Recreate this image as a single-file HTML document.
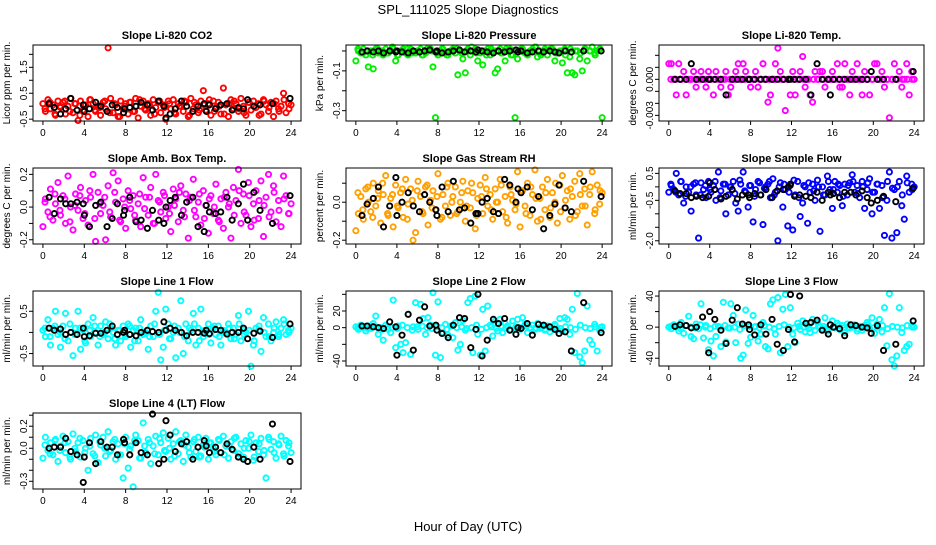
<!DOCTYPE html>
<html><head><meta charset="utf-8"><style>
body{margin:0;background:#fff;}
svg text{font-family:"Liberation Sans",sans-serif;}
</style></head><body>
<svg id="chart" width="936" height="540" xmlns="http://www.w3.org/2000/svg">
<rect width="936" height="540" fill="#fff"/>
<text x="468" y="14" text-anchor="middle" font-size="13">SPL_111025  Slope Diagnostics</text>
<text x="468" y="531" text-anchor="middle" font-size="13">Hour of Day (UTC)</text>
</svg>
<script>
const xTicks = [0,4,8,12,16,20,24];
const blackHours = [0.6,1.1,1.7,2.2,2.7,3.3,3.9,4.0,4.5,5.1,5.6,6.2,6.7,7.2,7.8,7.9,8.4,9.0,9.5,10.1,10.6,11.2,11.7,11.9,12.3,12.8,13.4,13.9,14.5,15.0,15.6,15.8,16.1,16.7,17.2,17.8,18.3,18.9,19.4,19.8,20.4,21.0,22.2,23.9];

const co2Vals = [0.1,-0.2,0.25,-0.1,0.05,-0.35,0.2,-0.05,0.15,-0.3,0.0,0.3,-0.25,0.1,-0.55,0.2,-0.15,0.05,-0.4,0.25,0.1,-0.2,0.0,-0.35,0.15,-0.1,2.25,0.3,-0.25,0.05,-0.4,0.2,-0.1,0.1,-0.3,0.15,-0.2,0.3,-0.45,0.0,0.2,-0.15,0.1,-0.35,0.25,-0.05,0.15,-0.25,0.05,-0.5,0.2,-0.1,0.25,-0.3,0.1,0.0,-0.2,0.15,-0.4,0.3,-0.1,0.05,-0.25,0.2,0.6,-0.15,0.1,-0.35,0.2,-0.05,0.15,-0.3,0.7,0.05,-0.4,0.25,-0.1,0.1,-0.2,0.3,0.0,-0.35,0.15,-0.15,0.2,-0.05,0.1,-0.3,0.25,0.05,-0.2,0.15,-0.4,0.2,-0.1,0.0,0.5,-0.25,0.1,0.05];
const co2Dense = [-0.1,0.15,-0.3,0.0,0.2,-0.2,0.1,-0.35,0.05,0.25,-0.15,-0.05,0.2,-0.25,0.1,-0.4,0.0,0.15,-0.2,0.25,-0.1,0.05,-0.3,0.2,-0.05,0.1,-0.25,0.0,0.2,-0.35,0.15,-0.15,0.05,0.25,-0.2,0.0,-0.3,0.1,0.2,-0.1,-0.25,0.15,0.0,-0.35,0.2,-0.05,0.1,-0.2,0.25,-0.1];
const co2Black = [0.1,-0.05,-0.3,-0.1,0.3,-0.15,0.05,-0.2,-0.1,0.15,0.0,-0.2,0.05,-0.05,-0.25,-0.1,-0.05,0.0,0.15,0.05,-0.15,0.2,0.0,-0.45,-0.3,-0.1,0.2,0.0,-0.2,0.0,0.1,-0.2,0.05,-0.1,0.05,0.1,-0.15,-0.05,-0.1,0.25,0.0,0.05,0.1,0.3];
const presVals = [-0.05,0.0,-0.01,0.01,-0.02,-0.08,0.0,-0.09,0.01,-0.01,0.0,-0.02,0.01,-0.01,0.0,0.01,-0.05,-0.02,0.0,0.01,-0.01,-0.02,0.01,0.0,-0.01,0.0,0.01,-0.02,-0.01,0.0,0.01,-0.08,-0.335,-0.02,0.0,0.01,-0.01,-0.02,0.0,0.01,-0.01,-0.12,0.0,-0.04,-0.11,0.01,-0.02,0.0,0.01,-0.05,-0.01,-0.07,0.0,0.01,-0.02,0.0,-0.11,-0.09,0.01,-0.01,-0.05,0.0,0.01,-0.02,-0.335,-0.04,0.0,0.01,-0.01,-0.02,0.0,0.01,0.02,-0.03,0.0,-0.01,0.01,-0.02,0.0,0.01,-0.05,-0.01,0.0,-0.06,0.01,-0.11,-0.03,-0.11,-0.12,0.0,-0.04,-0.1,0.01,-0.05,0.0,0.02,-0.01,0.0,0.01,-0.335];
const presDense = [0.01,-0.01,0.0,-0.02,0.01,0.0,-0.01,0.02,-0.02,0.0,0.01,-0.01,0.0,-0.02,0.01,0.0,-0.01,0.01,-0.02,0.0,0.01,-0.01,0.0,0.02,-0.01,0.0,-0.02,0.01,0.0,-0.01,0.01,-0.02,0.0,0.01,-0.01,0.0,0.02,-0.02,0.0,0.01,-0.01,0.0,-0.02,0.01,0.0,-0.01,0.01,0.0,-0.02,0.01];
const presBlack = [-0.005,0,-0.005,0,-0.01,0,-0.005,0.0,-0.005,-0.01,0,-0.005,0,0.005,-0.005,0,-0.01,-0.005,0,0.005,-0.005,0,-0.005,0.005,0,-0.005,-0.01,0,-0.005,0,0.005,-0.005,0,-0.01,-0.005,0,-0.005,0.0,-0.005,-0.01,0,-0.005,0,0];
const tempVals = [0.0013,0.0013,0,-0.0013,0.0013,0,0.00065,-0.0013,0,0,0.00065,-0.00065,0,0.00065,0,-0.00065,0.00065,0,-0.0013,0.00065,0,-0.00065,0,0.00065,-0.0013,-0.00065,0,0.00065,0.0013,0,0.0013,0.00065,0,-0.00065,0,0.00065,-0.00065,0,0.0013,0,-0.0019,-0.0013,0,0.0013,0.0026,0.00065,0,-0.0026,0,-0.0013,0.00065,-0.0013,0,0.00065,0.0019,-0.00065,0,-0.0013,-0.0019,0.00065,0,0.00065,0.00065,-0.00065,0,0,0.00065,0,0.0013,-0.00065,-0.00065,0.0013,0,-0.0013,0.00065,0,0.0013,0,-0.0013,0.00065,0,-0.0013,0,0.0013,0.0013,0,0.00065,-0.00065,0,-0.0032,0,0.0013,0,0.00065,-0.00065,0,0.0013,-0.0013,0.00065,0];
const tempDense = [0,0,0,0,0,0,0,0,0,0,0,0,0,0,0,0,0,0,0,0,0,0,0,0,0,0,0,0,0,0,0,0,0,0,0,0,0,0,0,0,0,0,0,0,0,0,0,0,0,0];
const tempBlack = [0,0,0,0.0013,0,0,0,0,0,0,-0.0013,0,0,0,0,0,0,0,0,0,0,0,0,0,0,0,0,-0.0013,0.0013,0,0,-0.0013,0,0,0,0,0,0,0,0.00065,0,0,0,0.00065];
const ambVals = [-0.12,0.05,-0.03,0.11,-0.08,0.02,0.15,-0.05,0.07,-0.1,0.19,0.0,-0.14,0.08,-0.02,0.12,-0.07,0.04,-0.11,0.06,0.2,-0.21,0.09,-0.04,0.01,-0.2,0.13,-0.06,0.21,0.03,0.16,-0.09,0.05,-0.13,0.1,-0.01,0.07,-0.08,0.02,-0.12,0.18,0.06,-0.05,0.12,-0.1,0.2,0.04,-0.03,0.09,-0.07,0.0,-0.15,0.11,0.05,-0.09,0.13,-0.02,0.08,-0.19,0.06,0.17,-0.06,0.03,-0.11,0.1,0.01,-0.16,0.07,-0.04,0.14,-0.08,0.05,-0.13,0.09,0.0,-0.19,0.12,0.04,0.23,-0.1,0.08,-0.05,0.15,-0.12,0.02,0.1,-0.07,0.16,-0.18,0.06,0.2,-0.03,0.13,-0.09,0.04,-0.12,0.19,0.07,-0.04,0.02];
const ambDense = [0.03,-0.06,0.08,-0.02,0.05,-0.09,0.01,0.07,-0.04,0.1,-0.07,0.02,0.06,-0.03,0.09,-0.08,0.0,0.04,-0.05,0.08,-0.01,0.06,-0.1,0.03,0.07,-0.04,0.01,0.09,-0.06,0.04,-0.02,0.08,-0.07,0.05,0.0,-0.09,0.06,0.02,-0.05,0.1,-0.03,0.07,-0.08,0.04,0.01,-0.06,0.09,-0.02,0.05,-0.04];
const ambBlack = [0.06,-0.04,0.05,0.02,0.02,0.03,0.02,-0.05,-0.12,0.01,0.03,-0.12,-0.07,0.02,-0.05,-0.02,0.06,-0.09,-0.08,-0.13,-0.02,-0.08,-0.1,0.0,0.04,0.06,-0.05,0.03,0.06,-0.12,-0.15,0.01,-0.03,-0.04,-0.03,0.06,-0.08,0.02,0.14,-0.08,0.09,-0.02,-0.1,0.07];
const rhVals = [-0.15,-0.06,0.03,-0.09,0.07,0.0,-0.05,0.1,-0.02,0.06,-0.11,0.04,0.14,-0.07,0.02,-0.13,0.09,-0.03,0.05,-0.08,0.12,-0.01,0.07,-0.2,-0.16,0.11,0.03,-0.06,0.08,-0.12,0.01,0.06,-0.04,0.15,-0.09,0.04,-0.02,0.1,-0.07,0.03,0.08,-0.05,0.0,0.11,-0.1,0.06,-0.03,0.05,-0.14,0.02,0.09,-0.06,0.13,-0.02,0.04,-0.09,0.07,0.0,0.12,-0.05,0.03,-0.11,0.08,0.01,-0.04,0.16,-0.13,0.06,-0.02,0.1,-0.07,0.04,0.17,-0.1,0.02,0.08,-0.04,0.12,-0.08,0.05,0.0,-0.11,0.09,0.14,-0.03,0.06,-0.09,0.03,0.11,-0.05,0.15,-0.02,0.07,-0.12,0.04,0.16,-0.06,0.09,-0.01,0.05];
const rhDense = [0.05,-0.04,0.08,-0.08,0.02,0.1,-0.06,0.04,-0.02,0.07,-0.09,0.01,0.06,-0.05,0.09,-0.03,0.03,-0.08,0.08,0.0,-0.06,0.05,-0.02,0.1,-0.07,0.03,0.07,-0.04,0.0,0.09,-0.08,0.04,-0.01,0.06,-0.06,0.08,0.02,-0.09,0.05,-0.03,0.1,-0.05,0.01,0.07,-0.07,0.04,-0.02,0.08,-0.04,0.06];
const rhBlack = [-0.07,-0.01,0.02,0.08,-0.13,-0.02,0.13,-0.07,0.0,0.05,-0.02,-0.05,0.04,0.0,-0.04,-0.07,0.08,-0.05,0.11,-0.04,-0.03,-0.11,-0.06,-0.06,0.0,0.02,-0.05,-0.06,0.12,0.09,0.0,0.07,0.05,0.08,-0.04,0.03,-0.14,-0.07,-0.01,0.09,-0.03,-0.05,0.11,0.03];
const sampVals = [-0.2,0.05,-0.1,0.5,-0.3,0.2,-0.6,0.0,-0.2,-0.9,0.1,-0.3,-1.9,0.15,-0.1,-0.4,0.2,-0.2,0.05,-0.5,0.55,-0.15,0.1,-1.0,-0.3,0.0,0.2,-0.6,-0.9,0.1,0.55,-0.2,-0.75,0.05,-1.3,-0.1,0.2,-0.3,-1.4,0.0,0.1,-0.4,0.3,-0.2,-2.0,0.15,-0.75,-0.1,-1.45,0.05,-1.6,-0.3,0.2,-1.1,-0.6,0.0,-1.35,-0.2,0.1,-0.5,0.25,-1.65,0.0,-0.3,0.4,-0.1,-0.8,0.2,-0.2,0.05,-0.7,0.1,-0.3,0.15,0.45,-0.2,0.05,-0.4,0.2,-0.8,-0.1,0.3,-1.0,-0.2,0.1,-0.8,0.05,-1.8,-0.5,0.55,-1.9,-0.1,-1.7,0.2,-0.7,-1.2,0.4,-0.2,0.1,0.0];
const sampDense = [0.1,-0.2,0.2,-0.35,0.0,0.15,-0.3,0.05,-0.1,0.2,-0.4,0.1,0.0,-0.25,0.25,-0.15,0.05,-0.35,0.15,-0.05,0.2,-0.3,0.0,0.1,-0.2,0.25,-0.4,0.05,0.15,-0.15,0.0,-0.3,0.2,-0.1,0.1,-0.35,0.05,0.2,-0.25,0.0,0.15,-0.2,0.1,-0.4,0.2,-0.05,0.0,-0.3,0.15,-0.1];
const sampBlack = [-0.15,-0.25,-0.25,-0.4,-0.35,-0.4,-0.35,0.15,-0.1,-0.45,-0.35,-0.1,-0.45,-0.3,-0.3,-0.4,-0.25,-0.3,-0.1,-0.4,-0.15,-0.1,0.0,0.1,-0.35,-0.3,-0.35,-0.4,-0.2,-0.5,-0.2,-0.3,-0.25,-0.4,-0.2,-0.2,-0.3,-0.15,-0.4,-0.6,-0.5,-0.35,-0.55,-0.05];
const l1Vals = [0.05,-0.1,0.3,-0.3,0.1,0.5,-0.05,-0.35,0.15,0.45,-0.2,0.0,-0.55,0.1,0.5,-0.4,0.05,-0.25,0.2,-0.1,0.35,0.0,-0.3,0.15,-0.05,0.25,-0.15,0.1,0.0,-0.3,0.05,-0.2,0.15,-0.1,0.2,-0.35,0.05,0.1,-0.2,0.3,-0.05,0.0,-0.4,0.15,-0.1,0.5,0.95,-0.65,-0.35,0.55,0.2,-0.15,0.0,-0.6,0.1,0.75,-0.5,0.2,-0.2,0.05,0.45,-0.3,0.1,0.55,-0.1,0.0,0.2,-0.25,0.1,-0.05,0.15,-0.3,0.05,0.0,0.2,-0.15,0.1,-0.05,0.4,-0.2,0.05,0.0,0.5,-0.8,-0.3,0.1,0.05,-0.45,0.35,-0.1,0.2,-0.2,0.0,0.25,-0.1,0.1,0.3,-0.05,0.05,0.1];
const l1Dense = [0.1,-0.1,0.15,0.0,-0.15,0.2,-0.05,0.1,-0.2,0.05,0.15,-0.1,0.0,0.2,-0.15,0.05,-0.05,0.15,-0.2,0.1,0.0,-0.1,0.2,-0.05,0.05,-0.15,0.15,0.0,-0.1,0.1,0.2,-0.2,0.05,-0.05,0.15,-0.1,0.0,0.1,-0.15,0.2,-0.05,0.05,-0.2,0.15,0.0,-0.1,0.1,-0.05,0.2,0.0];
const l1Black = [0.1,0.05,0.08,-0.05,0.0,-0.05,0.1,-0.1,-0.08,-0.02,-0.02,0.05,0.15,-0.05,0.0,0.05,-0.05,-0.08,0.0,0.05,0.02,0.0,0.25,0.05,0.1,0.05,0.0,-0.08,0.0,0.0,-0.02,0.05,-0.03,0.07,0.05,-0.04,0.0,0.0,0.1,-0.15,-0.02,0.03,-0.12,0.2];
const l2Vals = [1,-2,3,0,-4,2,-1,5,14,-8,0,-15,3,-2,-6,33,-24,2,-20,-30,-18,16,-32,1,30,-2,28,11,-8,12,3,42,-33,31,-36,-6,4,-9,2,-12,6,-27,-20,9,-3,30,35,-30,38,-8,-33,22,-28,26,3,-10,8,-4,10,-6,5,2,-3,8,-1,10,-2,12,4,-6,0,3,-2,5,-1,1,-3,2,-5,0,4,-2,11,-4,12,10,-8,22,-30,41,-35,-42,-28,26,-15,-20,4,-28,-3,1];
const l2Dense = [0,1,-1,2,0,-2,1,0,-1,3,0,-3,1,2,0,-1,1,0,-2,2,0,1,-1,0,3,-2,0,1,-1,2,0,-3,1,0,2,-1,0,1,-2,0,2,-1,1,0,-2,3,0,-1,1,0];
const l2Black = [2,2,1,0,-1,7,1,-33,-9,16,-27,9,25,2,3,-3,-7,-12,3,12,11,-24,-2,40,-34,-15,10,5,11,-3,-8,0,-1,5,-9,4,3,1,-2,-7,-5,-28,30,-6];
const l3Vals = [0,-2,3,1,-5,6,-8,2,14,-12,-15,4,-2,30,-14,2,-29,-18,-37,-12,1,-25,32,-19,-1,30,15,-20,4,-40,-36,22,-21,-13,15,1,-18,-9,6,-25,-28,30,35,-9,38,-33,23,42,-25,25,-9,-20,5,-3,8,-6,2,-7,10,-4,6,1,-2,12,-5,3,8,-1,5,-3,2,-7,4,-1,0,3,-5,1,-4,2,6,-2,12,-8,4,10,-6,25,-24,43,-42,-50,-37,25,-7,-30,-25,-22,2,0];
const l3Dense = [1,0,-2,2,0,-1,3,0,-2,1,0,2,-1,0,-3,2,1,0,-1,2,0,-2,1,3,0,-1,1,0,-2,2,0,1,-3,0,2,-1,0,1,-2,0,3,-1,0,2,-2,1,0,-1,2,0];
const l3Black = [1,3,2,-1,0,13,-33,20,10,-4,-21,9,25,4,3,-3,-10,3,-9,10,-22,-30,-3,42,-19,40,5,6,9,-4,-9,3,0,-2,-11,3,2,0,-1,-8,2,-30,-22,8];
const l4Vals = [-0.09,0.1,-0.02,0.05,-0.06,0.08,-0.12,0.02,0.11,-0.04,0.06,-0.1,0.13,-0.03,0.05,-0.08,0.07,0.0,-0.2,0.09,-0.05,0.12,-0.13,0.03,0.1,-0.07,0.15,-0.02,0.06,-0.1,0.04,-0.06,-0.27,0.1,-0.18,0.02,-0.35,0.12,0.07,-0.09,0.23,-0.04,0.08,-0.14,0.02,0.11,-0.06,0.05,0.14,-0.03,0.09,-0.1,0.04,0.15,-0.05,0.07,-0.12,0.12,0.01,-0.08,0.06,-0.03,0.1,-0.07,0.03,0.09,-0.1,0.05,0.0,-0.06,0.08,-0.04,0.11,0.02,-0.09,0.06,-0.02,0.1,-0.05,0.04,-0.08,0.07,0.0,0.12,-0.11,0.05,-0.03,0.09,-0.06,-0.27,0.1,-0.01,0.06,-0.09,0.04,0.11,-0.05,0.07,0.02,-0.04];
const l4Dense = [0.03,-0.05,0.07,-0.02,0.05,-0.08,0.0,0.09,-0.04,0.02,-0.07,0.06,0.0,-0.03,0.08,-0.06,0.04,-0.01,0.07,-0.09,0.02,0.05,-0.05,0.09,-0.02,0.0,-0.07,0.06,0.03,-0.04,0.08,-0.08,0.01,0.05,-0.03,0.07,-0.06,0.02,0.09,-0.05,0.0,0.06,-0.08,0.04,-0.02,0.08,-0.04,0.03,-0.07,0.05];
const l4Black = [0.0,0.01,0.01,0.09,-0.03,-0.06,-0.31,-0.08,0.05,-0.14,0.06,0.01,0.01,-0.06,0.08,0.05,-0.06,0.05,-0.04,-0.06,0.31,-0.14,-0.1,0.25,0.12,-0.03,0.04,0.06,-0.1,0.01,0.07,0.02,-0.04,0.01,-0.04,0.04,-0.01,-0.08,-0.1,-0.12,0.01,-0.1,0.22,-0.12];

const panels = [
 {name:'co2',title:'Slope Li-820 CO2',ylab:'Licor ppm per min.',col:0,row:0,color:'#ff0000',vals:co2Vals,dense:co2Dense,black:co2Black,ymin:-0.57,ymax:2.36,ticks:[-0.5,0,0.5,1,1.5,2],labels:['-0.5','','0.5','','1.5','']},
 {name:'pressure',title:'Slope Li-820 Pressure',ylab:'kPa per min.',col:1,row:0,color:'#00ee00',vals:presVals,dense:presDense,black:presBlack,ymin:-0.352,ymax:0.03,ticks:[0,-0.1,-0.2,-0.3],labels:['','-0.1','','-0.3']},
 {name:'temp',title:'Slope Li-820 Temp.',ylab:'degrees C per min.',col:2,row:0,color:'#ff00ff',vals:tempVals,dense:tempDense,black:tempBlack,ymin:-0.00347,ymax:0.00286,ticks:[0.002,0.001,0,-0.001,-0.002,-0.003],labels:['','','0.000','','','-0.003']},
 {name:'amb-box-temp',title:'Slope Amb. Box Temp.',ylab:'degrees C per min.',col:0,row:1,color:'#ff00ff',vals:ambVals,dense:ambDense,black:ambBlack,ymin:-0.226,ymax:0.239,ticks:[0.2,0.1,0,-0.1,-0.2],labels:['0.2','','0.0','','-0.2']},
 {name:'gas-rh',title:'Slope Gas Stream RH',ylab:'percent per min.',col:1,row:1,color:'#ffa000',vals:rhVals,dense:rhDense,black:rhBlack,ymin:-0.22,ymax:0.18,ticks:[0.1,0,-0.1,-0.2],labels:['','0.0','','-0.2']},
 {name:'sample-flow',title:'Slope Sample Flow',ylab:'ml/min per min.',col:2,row:1,color:'#0000ff',vals:sampVals,dense:sampDense,black:sampBlack,ymin:-2.12,ymax:0.7,ticks:[0.5,0,-0.5,-1,-1.5,-2],labels:['0.5','','-0.5','','','-2.0']},
 {name:'line1-flow',title:'Slope Line 1 Flow',ylab:'ml/min per min.',col:0,row:2,color:'#00ffff',vals:l1Vals,dense:l1Dense,black:l1Black,ymin:-0.795,ymax:0.98,ticks:[0.5,0,-0.5],labels:['0.5','','-0.5']},
 {name:'line2-flow',title:'Slope Line 2 Flow',ylab:'ml/min per min.',col:1,row:2,color:'#00ffff',vals:l2Vals,dense:l2Dense,black:l2Black,ymin:-46,ymax:44,ticks:[40,20,0,-20,-40],labels:['','20','0','','-40']},
 {name:'line3-flow',title:'Slope Line 3 Flow',ylab:'ml/min per min.',col:2,row:2,color:'#00ffff',vals:l3Vals,dense:l3Dense,black:l3Black,ymin:-50,ymax:46.5,ticks:[40,20,0,-20,-40],labels:['40','','0','','-40']},
 {name:'line4-flow',title:'Slope Line 4 (LT) Flow',ylab:'ml/min per min.',col:0,row:3,color:'#00ffff',vals:l4Vals,dense:l4Dense,black:l4Black,ymin:-0.37,ymax:0.32,ticks:[0.3,0.2,0.1,0,-0.1,-0.2,-0.3],labels:['','0.2','','0.0','','','-0.3']}
];
const colLeft=[33,346,659], colW=[268,266,265];
const rowTop=[45,168,291,413], rowH=[76,76,75,76];
const NS='http://www.w3.org/2000/svg';
const svg=document.getElementById('chart');
function mk(tag,attrs,parent){const e=document.createElementNS(NS,tag);for(const k in attrs)e.setAttribute(k,attrs[k]);(parent||svg).appendChild(e);return e;}

panels.forEach(p=>{
  const L=colLeft[p.col],W=colW[p.col],T=rowTop[p.row],H=rowH[p.row];
  const xs=h=>L+(h+0.96)/25.92*W;
  const ys=v=>T+H-(v-p.ymin)/(p.ymax-p.ymin)*H;
  const g=mk('g',{});
  
  
  const t=mk('text',{x:L+W/2,y:T-6,'text-anchor':'middle','font-size':'11','font-weight':'bold'},g);
  t.textContent=p.title;
  
  
  const yl=mk('text',{x:0,y:0,'text-anchor':'middle','font-size':'10',transform:`translate(${L-23},${T+H/2}) rotate(-90)`},g);
  yl.textContent=p.ylab;
  
  
  const xa=mk('g',{},g);
  
  
  mk('line',{x1:xs(0),x2:xs(24),y1:T+H,y2:T+H,stroke:'#000'},xa);
  xTicks.forEach(v=>{
    mk('line',{x1:xs(v),x2:xs(v),y1:T+H,y2:T+H+4,stroke:'#000'},xa);
    const tx=mk('text',{x:xs(v),y:T+H+15,'text-anchor':'middle','font-size':'10'},xa);
    tx.textContent=v;
  });
  const ya=mk('g',{},g);
  
  
  const tk=p.ticks.map(ys);
  mk('line',{x1:L,x2:L,y1:Math.min(...tk),y2:Math.max(...tk),stroke:'#000'},ya);
  p.ticks.forEach((v,i)=>{
    mk('line',{x1:L-4,x2:L,y1:ys(v),y2:ys(v),stroke:'#000'},ya);
    if(p.labels[i]){
      const tx=mk('text',{x:0,y:0,'text-anchor':'middle','font-size':'10',transform:`translate(${L-6},${ys(v)}) rotate(-90)`},ya);
      tx.textContent=p.labels[i];
    }
  });
  const pts=mk('g',{fill:'none',stroke:p.color,'stroke-width':'1.9'},g);
  
  
  const n=p.vals.length;
  p.vals.forEach((v,i)=>{
    mk('circle',{cx:xs(i*24/(n-1)),cy:ys(v),r:2.6},pts);
  });
  const m=p.dense.length;
  p.dense.forEach((v,i)=>{
    mk('circle',{cx:xs(0.2+i*23.6/(m-1)),cy:ys(v),r:2.6},pts);
  });
  const bp=mk('g',{fill:'none',stroke:'#000','stroke-width':'1.9'},g);
  
  
  p.black.forEach((v,i)=>{
    mk('circle',{cx:xs(blackHours[i]),cy:ys(v),r:2.6},bp);
  });
  const box=mk('rect',{x:L,y:T,width:W,height:H,fill:'none',stroke:'#000'},g);
  
  
});
</script>
</body></html>
